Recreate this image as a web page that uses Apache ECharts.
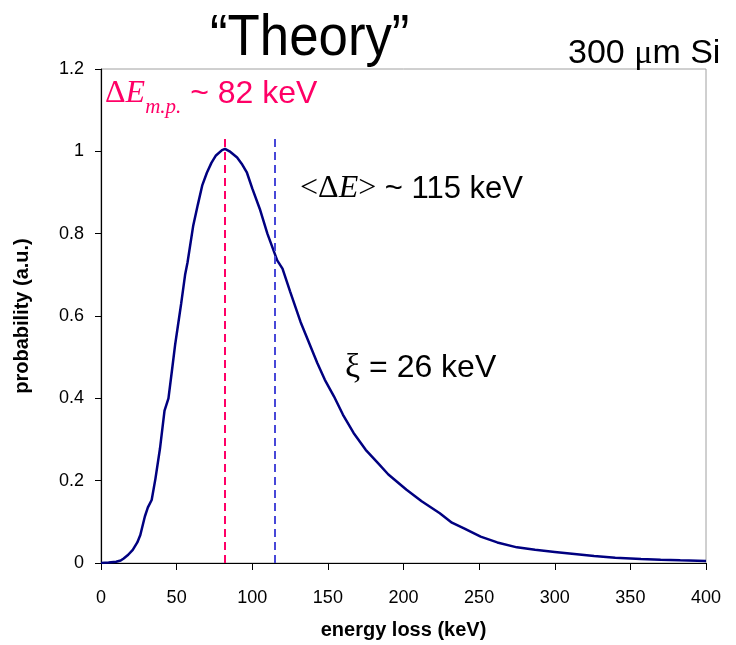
<!DOCTYPE html>
<html>
<head>
<meta charset="utf-8">
<title>Energy loss distribution</title>
<script src="https://cdn.jsdelivr.net/npm/echarts@6/dist/echarts.min.js"></script>
<style>
  html, body { margin: 0; padding: 0; background: #fff; }
  #chart { width: 736px; height: 645px; }
</style>
</head>
<body>
<div id="chart"></div>
<script>
// Energy loss (keV) sampled along the distribution
const energyLoss = [
  0, 5, 10, 13, 15, 18, 21, 24, 26, 29, 31, 33.5, 36, 39, 42, 44.6, 47, 49, 51, 53,
  55.6, 57.2, 61, 64, 67, 70, 73, 76, 80, 82, 85, 90, 93, 96.5, 100, 105, 110, 116.5,
  120, 125, 132, 137, 143, 148, 154, 160, 167, 175, 183, 190, 202, 212, 224, 232, 240,
  251, 262, 275, 287, 300, 313, 326, 340, 357, 370, 383, 400
];
// Probability (arbitrary units) at each energy loss value
const probability = [
  0, 0.001, 0.003, 0.006, 0.011, 0.02, 0.032, 0.05, 0.068, 0.113, 0.135, 0.153, 0.205, 0.278, 0.37, 0.40, 0.47, 0.53, 0.58, 0.63,
  0.70, 0.73, 0.82, 0.87, 0.918, 0.948, 0.972, 0.99, 1.003, 1.006, 1.0, 0.985, 0.97, 0.948, 0.91, 0.86, 0.80, 0.735,
  0.715, 0.66, 0.585, 0.54, 0.486, 0.445, 0.405, 0.36, 0.316, 0.275, 0.243, 0.215, 0.178, 0.15, 0.121, 0.098, 0.084,
  0.064, 0.05, 0.038, 0.032, 0.027, 0.022, 0.017, 0.013, 0.0097, 0.008, 0.0066, 0.005
];
// Characteristic values (keV)
const mostProbable = 82;
const meanLoss = 115;
const landauWidth = 26;
const markerTop = 1.03;

const xTicks = { min: 0, max: 400, interval: 50 };
const yTicks = { min: 0, max: 1.2, interval: 0.2 };

const points = energyLoss.map((e, i) => [e, probability[i]]);

const chart = echarts.init(document.getElementById('chart'), null, { renderer: 'canvas' });

const sans = 'Liberation Sans, Arial, sans-serif';
const serif = 'Liberation Serif, Times New Roman, serif';
const pink = '#ff0066';

chart.setOption({
  animation: false,
  backgroundColor: '#ffffff',
  grid: {
    left: 101, right: 30, top: 69, bottom: 82,
    show: true, borderColor: '#a0a0a0', borderWidth: 1
  },
  xAxis: {
    type: 'value',
    min: xTicks.min, max: xTicks.max, interval: xTicks.interval,
    name: 'energy loss (keV)',
    nameLocation: 'middle',
    nameGap: 57,
    nameTextStyle: { fontFamily: sans, fontWeight: 'bold', fontSize: 20, color: '#000' },
    axisLine: { show: true, onZero: false, lineStyle: { color: '#000', width: 1.2 } },
    axisTick: { show: true, length: 7, lineStyle: { color: '#000' } },
    axisLabel: { fontFamily: sans, fontSize: 18, color: '#000', margin: 26 },
    splitLine: { show: false }
  },
  yAxis: {
    type: 'value',
    min: yTicks.min, max: yTicks.max, interval: yTicks.interval,
    name: 'probability (a.u.)',
    nameLocation: 'middle',
    nameGap: 69,
    nameTextStyle: { fontFamily: sans, fontWeight: 'bold', fontSize: 20, color: '#000' },
    axisLine: { show: true, onZero: false, lineStyle: { color: '#000', width: 1.2 } },
    axisTick: { show: true, length: 6, lineStyle: { color: '#000' } },
    axisLabel: { fontFamily: sans, fontSize: 18, color: '#000', margin: 17 },
    splitLine: { show: false }
  },
  series: [{
    type: 'line',
    data: points,
    showSymbol: false,
    smooth: false,
    lineStyle: { color: '#000080', width: 2.5 },
    z: 3,
    markLine: {
      silent: true,
      symbol: ['none', 'none'],
      label: { show: false },
      z: 4,
      data: [
        [
          { coord: [mostProbable, 0], lineStyle: { color: pink, width: 2, type: [8, 5] } },
          { coord: [mostProbable, markerTop] }
        ],
        [
          { coord: [meanLoss, 0], lineStyle: { color: '#4848d8', width: 2, type: [8, 5] } },
          { coord: [meanLoss, markerTop] }
        ]
      ]
    }
  }],
  graphic: [
    {
      type: 'text', x: 210, y: 10, scaleX: 0.91,
      style: { text: '\u201cTheory\u201d', fontFamily: sans, fontSize: 58, fill: '#000' }
    },
    {
      type: 'text', x: 568, y: 37,
      style: {
        text: '{n|300 }{mu|\u03bc}{n|m Si}',
        rich: {
          n: { fontFamily: sans, fontSize: 34, fill: '#000' },
          mu: { fontFamily: serif, fontSize: 34, fill: '#000' }
        }
      }
    },
    {
      type: 'text', x: 105, y: 78,
      style: {
        text: '{d|\u0394}{e|E}{s|m.p.}{t| ~ ' + mostProbable + ' keV}',
        rich: {
          d: { fontFamily: serif, fontSize: 32, fill: pink, verticalAlign: 'bottom', padding: [0, 0, 8, 0] },
          e: { fontFamily: serif, fontStyle: 'italic', fontSize: 32, fill: pink, verticalAlign: 'bottom', padding: [0, 0, 8, 0] },
          s: { fontFamily: serif, fontStyle: 'italic', fontSize: 21, fill: pink, verticalAlign: 'bottom' },
          t: { fontFamily: sans, fontSize: 32, fill: pink, verticalAlign: 'bottom', padding: [0, 0, 8, 0] }
        }
      }
    },
    {
      type: 'text', x: 300, y: 173,
      style: {
        text: '{d|<\u0394}{e|E}{d|>}{t| ~ ' + meanLoss + ' keV}',
        rich: {
          d: { fontFamily: serif, fontSize: 32, fill: '#000' },
          e: { fontFamily: serif, fontStyle: 'italic', fontSize: 32, fill: '#000' },
          t: { fontFamily: sans, fontSize: 31, fill: '#000' }
        }
      }
    },
    {
      type: 'text', x: 345, y: 351,
      style: {
        text: '{d|\u03be}{t| = ' + landauWidth + ' keV}',
        rich: {
          d: { fontFamily: serif, fontSize: 34, fill: '#000' },
          t: { fontFamily: sans, fontSize: 32, fill: '#000' }
        }
      }
    }
  ]
});
</script>
</body>
</html>
